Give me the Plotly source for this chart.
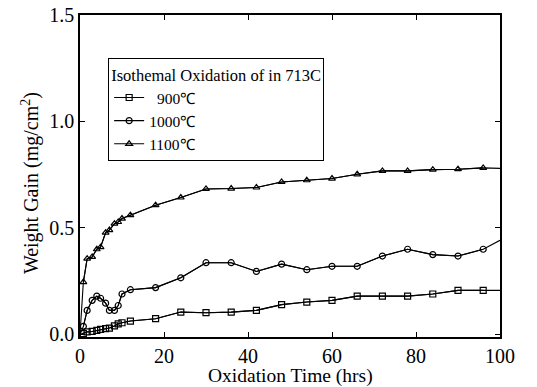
import plotly.graph_objects as go

time_hrs = [0, 0.8, 1.7, 2.9, 4, 4.9, 6.1, 7, 8.2, 9.1, 10, 12, 18, 24, 30, 36, 42, 48, 54, 60, 66, 72, 78, 84, 90, 96, 100]

gain_900 = [0.0, 0.004, 0.012, 0.014, 0.019, 0.024, 0.027, 0.030, 0.040, 0.050, 0.055, 0.063, 0.074, 0.105, 0.102, 0.105, 0.113, 0.140, 0.152, 0.160, 0.180, 0.180, 0.180, 0.190, 0.207, 0.207, 0.207]
gain_1000 = [0.0, 0.038, 0.113, 0.160, 0.180, 0.170, 0.147, 0.113, 0.113, 0.136, 0.190, 0.210, 0.220, 0.266, 0.337, 0.337, 0.296, 0.330, 0.304, 0.320, 0.320, 0.368, 0.400, 0.375, 0.368, 0.400, 0.442]
gain_1100 = [0.0, 0.246, 0.356, 0.364, 0.400, 0.410, 0.478, 0.490, 0.520, 0.528, 0.544, 0.560, 0.607, 0.643, 0.683, 0.685, 0.690, 0.716, 0.724, 0.732, 0.752, 0.768, 0.768, 0.774, 0.776, 0.782, 0.780]

series_names = ["  900℃", "1000℃", "1100℃"]
series_symbols = ["square-open", "circle-open", "triangle-up-open"]
legend_title = "Isothemal Oxidation of in 713C"
x_title = "Oxidation Time (hrs)"
y_title = "Weight Gain (mg/cm<sup>2</sup>)"

FONT = "Liberation Serif, Times New Roman, serif"

fig = go.Figure()
for name, sym, ys in zip(series_names, series_symbols, [gain_900, gain_1000, gain_1100]):
    # full connecting line (origin to x=100), no markers
    fig.add_trace(go.Scatter(
        x=time_hrs, y=ys, mode="lines", showlegend=False, hoverinfo="skip",
        line=dict(color="black", width=1.1),
    ))
    # measured points (markers); first/last line points carry no marker
    fig.add_trace(go.Scatter(
        x=time_hrs[1:-1], y=ys[1:-1], name=name, mode="lines+markers",
        line=dict(color="black", width=1.1),
        marker=dict(symbol=sym, size=6, color="black", line=dict(width=1.2, color="black")),
    ))

axis_common = dict(
    showline=True, linecolor="black", linewidth=1.5, mirror="allticks",
    ticks="inside", ticklen=5, tickwidth=1.2, tickcolor="black",
    showgrid=False, zeroline=False, automargin=False,
    tickfont=dict(family=FONT, size=20, color="black"),
)

fig.update_layout(
    width=537, height=387,
    margin=dict(l=80, r=37, t=15, b=50),
    paper_bgcolor="white", plot_bgcolor="white",
    font=dict(family=FONT, color="black"),
    xaxis=dict(range=[0, 100], tickvals=[0, 20, 40, 60, 80, 100], **axis_common),
    yaxis=dict(range=[-0.012, 1.5], tickvals=[0, 0.5, 1.0, 1.5], ticktext=["0.0", "0.5", "1.0", "1.5"],
               **axis_common),
    legend=dict(
        x=0.067, y=0.865, xanchor="left", yanchor="top",
        bordercolor="black", borderwidth=1, bgcolor="white",
        title=dict(text=legend_title, font=dict(family=FONT, size=16.5)),
        font=dict(family=FONT, size=15.5, color="black"),
        tracegroupgap=0,
    ),
    showlegend=True,
    annotations=[
        dict(text=x_title, xref="paper", yref="paper", x=0.5, y=-0.121,
             xanchor="center", yanchor="middle", showarrow=False,
             font=dict(family=FONT, size=19.5, color="black")),
        dict(text=y_title, xref="paper", yref="paper", x=-0.119, y=0.478,
             xanchor="center", yanchor="middle", showarrow=False, textangle=-90,
             font=dict(family=FONT, size=20, color="black")),
    ],
)

fig.write_html("out.html", config={"displayModeBar": False},
               post_script="document.body.style.margin='0';")
